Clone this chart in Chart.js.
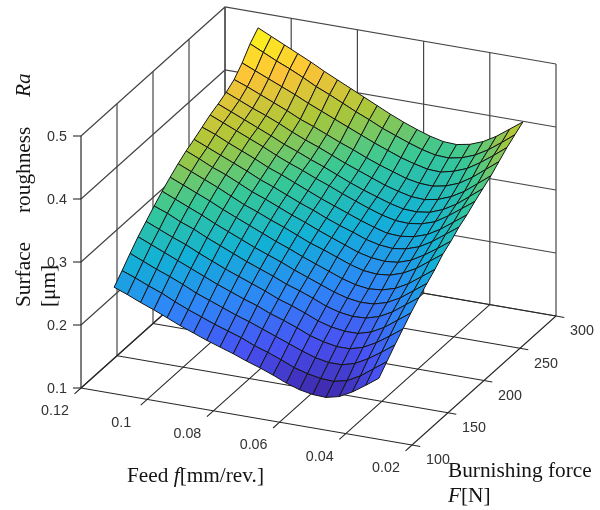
<!DOCTYPE html>
<html lang="en">
<head>
<meta charset="UTF-8">
<title>Surface roughness</title>
<script src="https://cdn.jsdelivr.net/npm/chart.js"></script>
<style>
  html, body { margin: 0; padding: 0; background: #fff; }
  canvas { display: block; }
</style>
</head>
<body>
<canvas id="surfaceChart" width="600" height="510"></canvas>
<script>
  // axes
  const feedTicks = [0.12, 0.1, 0.08, 0.06, 0.04, 0.02];
  const feedTickLabels = ['0.12', '0.1', '0.08', '0.06', '0.04', '0.02'];
  const forceTicks = [100, 150, 200, 250, 300];
  const forceTickLabels = ['100', '150', '200', '250', '300'];
  const roughTicks = [0.1, 0.2, 0.3, 0.4, 0.5];
  const roughTickLabels = ['0.1', '0.2', '0.3', '0.4', '0.5'];

  // surface grid, one row per force, one column per feed
  const feedValues = [0.11, 0.106, 0.102, 0.098, 0.094, 0.09, 0.086, 0.082, 0.078, 0.074, 0.07, 0.066, 0.062, 0.058, 0.054, 0.05, 0.046, 0.042, 0.038, 0.034, 0.03];
  const forceValues = [100, 111.1, 122.2, 133.3, 144.4, 155.6, 166.7, 177.8, 188.9, 200, 211.1, 222.2, 233.3, 244.4, 255.6, 266.7, 277.8, 288.9, 300];
  const ra100 = [.269,.261,.252,.244,.235,.226,.218,.210,.203,.196,.188,.181,.173,.164,.157,.153,.152,.157,.168,.182,.197];
  const ra111 = [.284,.276,.267,.259,.249,.240,.232,.224,.217,.210,.201,.194,.186,.177,.171,.167,.166,.171,.182,.197,.212];
  const ra122 = [.300,.291,.282,.274,.265,.255,.247,.239,.231,.224,.216,.208,.200,.192,.185,.181,.181,.187,.198,.212,.227];
  const ra133 = [.315,.306,.297,.288,.279,.270,.261,.253,.245,.238,.229,.222,.214,.205,.199,.195,.195,.201,.212,.226,.241];
  const ra144 = [.328,.319,.310,.302,.292,.283,.274,.266,.258,.250,.241,.234,.226,.217,.211,.208,.208,.214,.225,.240,.255];
  const ra156 = [.341,.333,.323,.315,.305,.296,.287,.278,.270,.262,.253,.246,.238,.229,.223,.220,.221,.227,.238,.253,.268];
  const ra167 = [.353,.344,.335,.326,.316,.307,.298,.289,.281,.273,.264,.256,.248,.240,.234,.231,.232,.238,.249,.264,.279];
  const ra178 = [.364,.355,.346,.337,.327,.318,.309,.300,.291,.283,.274,.266,.258,.250,.244,.241,.243,.249,.260,.275,.290];
  const ra189 = [.374,.365,.356,.347,.337,.327,.319,.310,.302,.293,.284,.277,.269,.261,.255,.253,.255,.262,.273,.288,.303];
  const ra200 = [.383,.374,.364,.356,.346,.336,.328,.319,.310,.302,.293,.285,.277,.269,.264,.262,.264,.271,.283,.297,.312];
  const ra211 = [.390,.381,.372,.363,.354,.344,.336,.327,.318,.310,.301,.293,.286,.278,.273,.271,.274,.281,.293,.308,.323];
  const ra222 = [.398,.390,.380,.371,.362,.352,.344,.335,.326,.317,.309,.301,.293,.286,.280,.279,.282,.289,.301,.316,.331];
  const ra233 = [.406,.397,.388,.379,.370,.360,.351,.343,.334,.326,.317,.309,.301,.294,.289,.288,.291,.298,.311,.326,.341];
  const ra244 = [.412,.403,.394,.385,.376,.366,.358,.349,.341,.332,.323,.315,.308,.301,.296,.295,.298,.306,.318,.334,.350];
  const ra256 = [.419,.410,.401,.393,.384,.374,.365,.357,.348,.339,.331,.323,.315,.309,.304,.303,.307,.315,.327,.343,.359];
  const ra267 = [.428,.420,.411,.402,.393,.383,.375,.366,.357,.349,.340,.332,.325,.318,.314,.313,.317,.325,.338,.354,.370];
  const ra278 = [.443,.434,.425,.416,.407,.397,.388,.379,.370,.361,.352,.344,.336,.330,.325,.324,.329,.337,.350,.365,.381];
  const ra289 = [.462,.452,.442,.433,.423,.412,.403,.393,.383,.374,.364,.356,.348,.341,.336,.335,.339,.347,.359,.374,.390];
  const ra300 = [.476,.466,.456,.446,.436,.425,.415,.405,.395,.385,.375,.366,.358,.351,.346,.345,.349,.357,.369,.384,.399];
  const roughRows = [ra100, ra111, ra122, ra133, ra144, ra156, ra167, ra178, ra189, ra200, ra211, ra222, ra233, ra244, ra256, ra267, ra278, ra289, ra300];

  // parula stops
  const parula = [[62,38,168],[72,82,244],[46,135,247],[18,177,214],[55,200,151],[171,199,57],[254,195,56],[249,251,21]];
  const colourMin = 0.152, colourMax = 0.476;

  function colourFor(z) {
    const t = Math.min(1, Math.max(0, (z - colourMin) / (colourMax - colourMin))) * (parula.length - 1);
    const i = Math.min(parula.length - 2, Math.floor(t));
    const k = t - i;
    const c = [0, 1, 2].map(n => Math.round(parula[i][n] + (parula[i + 1][n] - parula[i][n]) * k));
    return 'rgb(' + c.join(',') + ')';
  }

  // orthographic view of the MATLAB box
  function project(f, F, z) {
    const a = (0.12 - f) / 0.1;
    const u = (F - 100) / 200;
    return { x: 81 + 331 * a + 144 * u, y: 388 + 57 * a - 129 * u - 630 * (z - 0.1) };
  }

  function lineSet(points, colour, width) {
    return { data: points, showLine: true, fill: false, borderColor: colour, borderWidth: width, pointRadius: 0, tension: 0 };
  }

  const gridColour = 'rgb(70,70,70)';
  const axisColour = 'rgb(40,40,40)';
  const farSets = [];
  // walls
  roughTicks.forEach(z => {
    farSets.push(lineSet([project(0.12, 100, z), project(0.12, 300, z), project(0.02, 300, z)], gridColour, 1.2));
  });
  forceTicks.forEach(F => {
    farSets.push(lineSet([project(0.12, F, 0.1), project(0.12, F, 0.5)], F === 100 ? axisColour : gridColour, 1.2));
  });
  feedTicks.forEach(f => {
    farSets.push(lineSet([project(f, 300, 0.1), project(f, 300, 0.5)], gridColour, 1.2));
  });
  // floor
  feedTicks.forEach(f => {
    farSets.push(lineSet([project(f, 300, 0.1), project(f, 100, 0.1), project(f, 91, 0.1)], axisColour, 1.1));
  });
  forceTicks.forEach(F => {
    farSets.push(lineSet([project(0.12, F, 0.1), project(0.02, F, 0.1), project(0.0175, F, 0.1)], axisColour, 1.1));
  });
  // z ticks
  roughTicks.forEach(z => {
    const p = project(0.12, 100, z);
    farSets.push(lineSet([p, { x: p.x - 8, y: p.y }], axisColour, 1.1));
  });

  // quads, far ones first
  const quadSets = [];
  for (let j = forceValues.length - 2; j >= 0; j--) {
    for (let i = 0; i < feedValues.length - 1; i++) {
      const z00 = roughRows[j][i], z10 = roughRows[j][i + 1], z01 = roughRows[j + 1][i], z11 = roughRows[j + 1][i + 1];
      const p0 = project(feedValues[i], forceValues[j], z00);
      const p1 = project(feedValues[i + 1], forceValues[j], z10);
      const p2 = project(feedValues[i + 1], forceValues[j + 1], z11);
      const p3 = project(feedValues[i], forceValues[j + 1], z01);
      const set = lineSet([p0, p1, p2, p3, p0], 'rgb(20,20,20)', 1);
      set.fill = 'shape';
      set.backgroundColor = colourFor((z00 + z10 + z01 + z11) / 4);
      quadSets.push(set);
    }
  }

  // chart.js paints the first dataset last
  const datasets = farSets.concat(quadSets).reverse();

  const textPlugin = {
    id: 'boxText',
    afterDraw(chart) {
      const ctx = chart.ctx;
      const scaleX = chart.scales.x, scaleY = chart.scales.y;
      // tick labels in the reference are a little narrow, so squeeze them
      const tickText = (text, x, y) => {
        ctx.save();
        ctx.translate(x, y);
        ctx.scale(0.93, 1);
        ctx.fillText(text, 0, 0);
        ctx.restore();
      };
      ctx.save();
      ctx.fillStyle = 'rgb(50,50,50)';
      ctx.font = '15.4px "Liberation Sans"';
      ctx.textBaseline = 'middle';
      ctx.textAlign = 'center';
      feedTicks.forEach((f, i) => {
        const p = project(f, 100, 0.1);
        tickText(feedTickLabels[i], scaleX.getPixelForValue(p.x) - 26, scaleY.getPixelForValue(p.y) + 23);
      });
      forceTicks.forEach((F, i) => {
        const p = project(0.02, F, 0.1);
        tickText(forceTickLabels[i], scaleX.getPixelForValue(p.x) + 26, scaleY.getPixelForValue(p.y) + 15);
      });
      ctx.textAlign = 'right';
      roughTicks.forEach((z, i) => {
        const p = project(0.12, 100, z);
        tickText(roughTickLabels[i], scaleX.getPixelForValue(p.x) - 14, scaleY.getPixelForValue(p.y) + 0.5);
      });

      ctx.fillStyle = 'rgb(20,20,20)';
      ctx.textAlign = 'left';
      ctx.textBaseline = 'alphabetic';
      const serif = '21.3px "Liberation Serif"';
      const serifItalic = 'italic 21.3px "Liberation Serif"';
      ctx.font = serif;
      ctx.fillText('Burnishing force', 448, 477);
      ctx.font = serifItalic;
      ctx.fillText('F', 448, 502);
      let w = ctx.measureText('F').width;
      ctx.font = serif;
      ctx.fillText('[N]', 448 + w, 502);

      ctx.fillText('Feed ', 127, 482);
      let x = 127 + ctx.measureText('Feed ').width;
      ctx.font = serifItalic;
      ctx.fillText('f', x, 482);
      x += ctx.measureText('f').width;
      ctx.font = serif;
      ctx.fillText('[mm/rev.]', x, 482);

      const vertical = (text, font, bx, by) => {
        ctx.save();
        ctx.translate(bx, by);
        ctx.rotate(-Math.PI / 2);
        ctx.font = font;
        ctx.fillText(text, 0, 0);
        ctx.restore();
      };
      vertical('Surface', serif, 30, 307);
      vertical('roughness', serif, 30, 213);
      vertical('Ra', serifItalic, 30, 97);
      vertical('[\u03bcm]', serif, 55, 307);
      ctx.restore();
    }
  };

  new Chart(document.getElementById('surfaceChart'), {
    type: 'scatter',
    data: { datasets: datasets },
    plugins: [textPlugin],
    options: {
      responsive: false,
      animation: false,
      clip: false,
      layout: { padding: 0 },
      plugins: { legend: { display: false }, tooltip: { enabled: false } },
      scales: {
        x: { type: 'linear', display: false, min: 0, max: 600 },
        y: { type: 'linear', display: false, min: 0, max: 510, reverse: true }
      }
    }
  });
</script>
</body>
</html>
